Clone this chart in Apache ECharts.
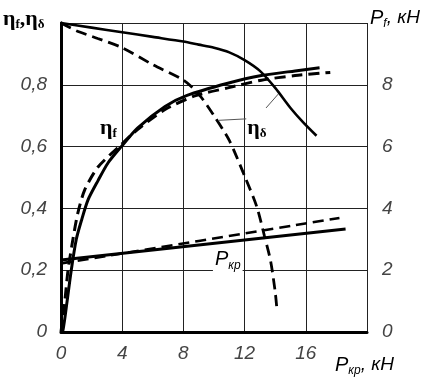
<!DOCTYPE html>
<html><head><meta charset="utf-8">
<script src="https://cdn.jsdelivr.net/npm/echarts@6/dist/echarts.min.js"></script>
<style>html,body{margin:0;padding:0;background:#fff}#c{width:433px;height:384px}</style>
</head><body><div id="c"></div>
<script>
// ---- data (x = P_кр, кН) ----
const xTicks = [0, 4, 8, 12, 16, 20];
const etaTicks = [0, 0.2, 0.4, 0.6, 0.8, 1.0];
const pfTicks = [0, 2, 4, 6, 8, 10];

// η_δ solid (falling)
const etaDeltaSolid = [[0,1.0],[2,0.985],[4,0.97],[6,0.955],[8,0.94],[9,0.93],[10,0.92],[11,0.905],[12,0.88],[13,0.845],[14,0.79],[15,0.725],[15.8,0.68],[16.7,0.635]];
// η_δ dashed (falling)
const etaDeltaDashed = [[0,1.0],[1,0.975],[2.4,0.95],[4,0.92],[6,0.865],[8,0.815],[9,0.77],[10,0.70],[11,0.62],[12,0.505],[12.8,0.405],[13.3,0.31],[13.7,0.23],[14,0.13],[14.1,0.08]];
// η_f solid (rising)
const etaFSolid = [[0,0],[0.13,0.006],[0.4,0.1],[0.67,0.2],[1.0,0.30],[1.33,0.36],[1.76,0.427],[2.42,0.49],[3.07,0.547],[3.94,0.60],[5,0.66],[6.8,0.73],[8.2,0.765],[10.9,0.805],[13.1,0.83],[15.3,0.845],[16.9,0.855]];
// η_f dashed (rising)
const etaFDashed = [[0,0],[0.25,0.1],[0.46,0.2],[0.78,0.30],[1.1,0.385],[1.55,0.46],[2.42,0.534],[3.9,0.605],[5,0.655],[6.8,0.72],[8.8,0.765],[10.9,0.79],[13.1,0.815],[15.3,0.83],[17.6,0.84]];
// P_f, кН (right axis)
const pfSolid = [[0,2.33],[18.6,3.33]];
const pfDashed = [[0,2.22],[18.2,3.69]];

const tickFont = {fontFamily:'"Liberation Sans Narrow","Liberation Sans",sans-serif', fontStyle:'italic', fontSize:19, color:'#444'};
const chart = echarts.init(document.getElementById('c'), null, {renderer:'canvas'});
const solid = (w)=>({color:'#000', width:w, type:'solid'});
const dashed = (w)=>({color:'#000', width:w, type:[11,6]});
function line(name, data, ls, yIdx){
  return {name, type:'line', data, yAxisIndex:yIdx||0, smooth:0.25, showSymbol:false, symbol:'none', lineStyle:ls, silent:true, z:3};
}
chart.setOption({
  animation:false,
  backgroundColor:'#fff',
  grid:{left:61, right:66, top:23, bottom:52},
  xAxis:{type:'value', min:0, max:20, interval:4,
    axisLine:{show:true, lineStyle:{color:'#000', width:3}},
    axisTick:{show:false},
    axisLabel:Object.assign({margin:12, formatter:v=> v===20 ? '' : String(v)}, tickFont),
    splitLine:{show:true, lineStyle:{color:'#222', width:1}}},
  yAxis:[
    {type:'value', min:0, max:1, interval:0.2, position:'left',
      axisLine:{show:true, onZero:false, lineStyle:{color:'#000', width:3}},
      axisTick:{show:false},
      axisLabel:Object.assign({margin:14, formatter:v=> (Math.abs(v-1)<1e-9) ? '' : (v===0?'0':v.toFixed(1).replace('.',','))}, tickFont),
      splitLine:{show:true, lineStyle:{color:'#222', width:1}}},
    {type:'value', min:0, max:10, interval:2, position:'right',
      axisLine:{show:true, lineStyle:{color:'#000', width:3}},
      axisTick:{show:false},
      axisLabel:Object.assign({margin:15, formatter:v=> v===10 ? '' : String(v)}, tickFont),
      splitLine:{show:false}}
  ],
  series:[
    line('etaDeltaSolid', etaDeltaSolid, solid(2.6)),
    line('etaDeltaDashed', etaDeltaDashed, dashed(2.8)),
    line('etaFSolid', etaFSolid, solid(3)),
    line('etaFDashed', etaFDashed, dashed(3)),
    line('pfSolid', pfSolid, solid(3), 1),
    line('pfDashed', pfDashed, dashed(2.6), 1)
  ]
});

const px = (x,y)=>chart.convertToPixel({xAxisIndex:0, yAxisIndex:0}, [x,y]);
const serif = '"Liberation Serif","DejaVu Serif",serif';
const sans = '"Liberation Sans","DejaVu Sans",sans-serif';
const etaRich = {
  e:{fontFamily:serif, fontWeight:'bold', fontSize:22, fill:'#000'},
  s:{fontFamily:serif, fontWeight:'bold', fontSize:13, fill:'#000', padding:[12,0,0,0]}
};
const pRich = {
  p:{fontFamily:sans, fontStyle:'italic', fontSize:20, fill:'#000'},
  s:{fontFamily:sans, fontStyle:'italic', fontSize:12, fill:'#000', padding:[12,0,0,0]},
  t:{fontFamily:sans, fontStyle:'italic', fontSize:19, fill:'#000'}
};
const lab1 = px(3.1, 0.66), lab2 = px(12.8, 0.66), lab3 = px(10.9, 0.235);
const a1 = px(12.2, 0.69), a2 = px(10.3, 0.685), b1 = px(13.4, 0.725), b2 = px(14.2, 0.77);
chart.setOption({graphic:[
  {type:'line', shape:{x1:a1[0], y1:a1[1], x2:a2[0], y2:a2[1]}, style:{stroke:'#555', lineWidth:1}, z:10},
  {type:'line', shape:{x1:b1[0], y1:b1[1], x2:b2[0], y2:b2[1]}, style:{stroke:'#555', lineWidth:1}, z:10},
  {type:'text', x:lab1[0], y:lab1[1], z:11, style:{text:'{e|η}{s|f}', rich:etaRich, align:'center', verticalAlign:'middle', backgroundColor:'#fff', padding:[0,1]}},
  {type:'text', x:lab2[0], y:lab2[1], z:11, style:{text:'{e|η}{s|δ}', rich:etaRich, align:'center', verticalAlign:'middle', backgroundColor:'#fff', padding:[0,1]}},
  {type:'text', x:lab3[0], y:lab3[1], z:11, style:{text:'{p|P}{s|кр}', rich:pRich, align:'center', verticalAlign:'middle', backgroundColor:'#fff', padding:[0,2]}},
  {type:'text', left:3, top:8, z:11, style:{text:'{e|η}{s|f}{e|,η}{s|δ}', rich:etaRich}},
  {type:'text', left:370, top:8, z:11, style:{text:'{p|P}{s|f}{t|, кН}', rich:pRich}},
  {type:'text', left:335, top:355, z:11, style:{text:'{p|P}{s|кр}{t|, кН}', rich:pRich}}
]});
</script></body></html>
